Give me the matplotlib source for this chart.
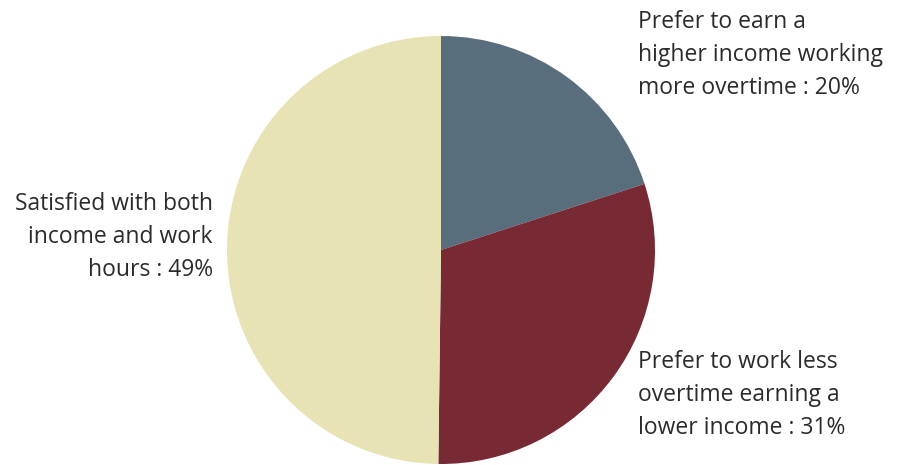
import matplotlib.pyplot as plt

# data
labels = ['Prefer to earn a\nhigher income working\nmore overtime',
          'Prefer to work less\novertime earning a\nlower income',
          'Satisfied with both\nincome and work\nhours']
label_pct = [20, 31, 49]
shares = [20, 30.2, 49.8]
colors = ['#596e7d', '#772a33', '#e8e3b4']

W, H = 899, 465
fig = plt.figure(figsize=(W / 100, H / 100), dpi=100)
plt.rcParams['font.family'] = ['Open Sans', 'DejaVu Sans']

# pie axes placed in pixel terms
cx, cy, r = 441, 250, 214
ax = fig.add_axes([(cx - r) / W, (H - cy - r) / H, 2 * r / W, 2 * r / H])
ax.pie(shares, colors=colors, startangle=90, counterclock=False, radius=1,
       wedgeprops=dict(linewidth=0))
ax.set_xlim(-1, 1)
ax.set_ylim(-1, 1)
ax.set_aspect('equal')
ax.axis('off')

txt = dict(fontsize=16.5, color='#2b2b2b', linespacing=1.5, va='center')
full = [f'{l} : {p}%' for l, p in zip(labels, label_pct)]
fig.text(638 / W, 1 - 55 / H, full[0], ha='left', **txt)
fig.text(638 / W, 1 - 395 / H, full[1], ha='left', **txt)
fig.text(213 / W, 1 - 237 / H, full[2], ha='right', multialignment='right', **txt)

fig.savefig('out.png', dpi=100)
